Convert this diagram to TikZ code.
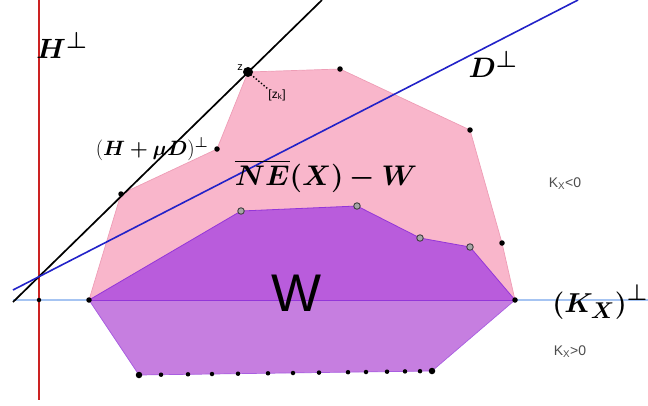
\documentclass[tikz,border=0pt]{standalone}
\usepackage{amsmath,bm}
\usepackage{fontspec}
\newfontfamily\sansf{Liberation Sans}
\begin{document}
\begin{tikzpicture}[x=1pt,y=-1pt,
  dotb/.style={circle,fill=black,inner sep=0pt,minimum size=5.5pt},
  dotbig/.style={circle,fill=black,inner sep=0pt,minimum size=10pt},
  dotg/.style={circle,fill=gray!70,draw=black!75,line width=0.9pt,inner sep=0pt,minimum size=6.5pt},
  mathlbl/.style={inner sep=0pt,font=\Huge},
  smalllbl/.style={inner sep=0pt,text=black!70,font=\sansf\fontsize{14}{15}\selectfont}]
\definecolor{pinkf}{HTML}{F9B6CB}
\definecolor{pinke}{HTML}{EE9DB6}
\definecolor{wup}{HTML}{B95CDC}
\definecolor{wlo}{HTML}{C67EE0}
\definecolor{wedge}{HTML}{9436D8}
\definecolor{redl}{HTML}{CC2222}
\definecolor{kline}{HTML}{A6C4F2}
\definecolor{bluel}{HTML}{2222C8}
\useasboundingbox (0,0) rectangle (648,405);
% coordinates
\coordinate (A) at (89,300);
\coordinate (P1) at (121,194);
\coordinate (P2) at (217,149);
\coordinate (Z) at (248,72);
\coordinate (P4) at (340,69);
\coordinate (P5) at (470,130);
\coordinate (P6) at (502,243);
\coordinate (B) at (515,300);
\coordinate (W1) at (241,211);
\coordinate (W2) at (357,206);
\coordinate (W3) at (420,238);
\coordinate (W4) at (470,247);
\coordinate (L1) at (139,375);
\coordinate (L2) at (432,371);
% regions
\fill[pinkf] (A) -- (P1) -- (P2) -- (Z) -- (P4) -- (P5) -- (P6) -- (B) -- cycle;
\draw[pinke,line width=0.7pt] (A) -- (P1) -- (P2) -- (Z) -- (P4) -- (P5) -- (P6) -- (B);
\fill[wup] (A) -- (W1) -- (W2) -- (W3) -- (W4) -- (B) -- cycle;
\fill[wlo] (A) -- (L1) -- (L2) -- (B) -- cycle;
\draw[wedge,line width=0.8pt] (A) -- (W1) -- (W2) -- (W3) -- (W4) -- (B);
\draw[wedge!80,line width=0.7pt] (A) -- (L1) -- (L2) -- (B);
% lines
\coordinate (K0) at (13,300);
\coordinate (K1) at (648,300);
\draw[kline,line width=1.3pt] (K0) -- (A);
\draw[kline,line width=1.3pt] (B) -- (K1);
\draw[wedge,line width=1pt] (A) -- (B);
\coordinate (R0) at (39,0);
\coordinate (R1) at (39,400);
\draw[redl,line width=1.5pt] (R0) -- (R1);
\coordinate (H0) at (13,302);
\coordinate (H1) at (322,0);
\draw[black,line width=1.7pt] (H0) -- (H1);
\coordinate (D0) at (13,290);
\coordinate (D1) at (578,0);
\draw[bluel,line width=1.6pt] (D0) -- (D1);
% dotted to [z_k]
\coordinate (ZK) at (268,89);
\draw[black,dotted,line width=1.4pt] (Z) -- (ZK);
% dots
\node[dotb,minimum size=4.5pt] (d0) at (39,300) {};
\node[dotb] (dA) at (A) {};
\node[dotb] (dB) at (B) {};
\node[dotb] (d1) at (P1) {};
\node[dotb] (d2) at (P2) {};
\node[dotbig] (dz) at (Z) {};
\node[dotb] (d4) at (P4) {};
\node[dotb] (d5) at (P5) {};
\node[dotb] (d6) at (P6) {};
\node[dotg] (g1) at (W1) {};
\node[dotg] (g2) at (W2) {};
\node[dotg] (g3) at (W3) {};
\node[dotg] (g4) at (W4) {};
\node[dotb,minimum size=6.5pt] (l1) at (L1) {};
\foreach \x/\y [count=\i] in {161/374.7,188/374.3,212/374,238/373.7,268/373.3,293/373,319/372.6,348/372.2,366/372,387/371.7,405/371.4,420/371.2} {
  \node[dotb,minimum size=4.5pt] (b\i) at (\x,\y) {};
}
\node[dotb,minimum size=6.5pt] (l2) at (L2) {};
% labels
\node[mathlbl] (tH) at (62,45) {\scalebox{1.12}{$\bm{H}^{\bm\perp}$}};
\node[inner sep=0pt,font=\fontsize{22}{24}\selectfont] (tHD) at (152,149) {$(\bm{H+\mu D})^{\bm\perp}$};
\node[mathlbl] (tNE) at (326,176) {\scalebox{1.14}{$\bm{\overline{NE}(X)-W}$}};
\node[mathlbl] (tD) at (493,64) {\scalebox{1.13}{$\bm{D}^{\bm\perp}$}};
\node[mathlbl] (tK) at (600,302) {\scalebox{1.1}{$\bm{(K_X)}^{\bm\perp}$}};
\node[inner sep=0pt,font=\sansf\fontsize{53}{56}\selectfont] (tW) at (297,293) {W};
\node[smalllbl] (t1) at (565,184) {K\textsubscript{X}<0};
\node[smalllbl] (t2) at (570,352) {K\textsubscript{X}>0};
\node[inner sep=0pt,font=\sansf\fontsize{11}{12}\selectfont] (tz) at (240,68) {z};
\node[inner sep=0pt,font=\sansf\fontsize{12}{13}\selectfont] (tzk) at (277,95) {[z\textsubscript{k}]};
\end{tikzpicture}
\end{document}
